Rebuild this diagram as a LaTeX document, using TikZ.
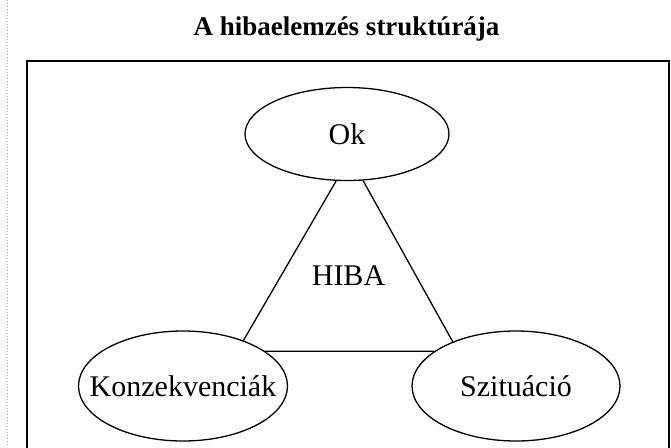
\documentclass[tikz,border=0pt]{standalone}
\usepackage{fontspec}
\setmainfont{Liberation Serif}
\usetikzlibrary{shapes.geometric}
\begin{document}
\begin{tikzpicture}[x=1pt,y=-1pt,
  oval/.style={draw, ellipse, line width=1.3pt, inner sep=0pt},
  lbl/.style={font=\fontsize{30}{30}\selectfont},
  conn/.style={line width=1.3pt}]
\useasboundingbox (0,0) rectangle (671,447);
\clip (0,0) rectangle (671,447);
\fill[white] (0,0) rectangle (671,447);
\coordinate (dtop) at (7,0);
\coordinate (dbot) at (7,447);
\draw[gray!60, line width=1pt, dotted] (dtop) -- (dbot);
\node[font=\bfseries\fontsize{27}{27}\selectfont, anchor=base] (title) at (346.5,35) {A hibaelemzés struktúrája};
\draw[line width=2pt] (27,61) rectangle (669,470);
\node[oval, minimum width=204pt, minimum height=93pt,
      label={[lbl]center:Ok}] (ok) at (347,134) {};
\node[oval, minimum width=209pt, minimum height=110pt,
      label={[lbl]center:Konzekvenciák}] (konz) at (183,386) {};
\node[oval, minimum width=208pt, minimum height=110pt,
      label={[lbl]center:Szituáció}] (szit) at (516,386) {};
\node[lbl, anchor=base] (hiba) at (348.5,285) {HIBA};
\draw[conn] (ok.257) -- (konz.37);
\draw[conn] (ok.289) -- (szit.145);
\draw[conn] (konz.23) -- (szit.157.6);
\end{tikzpicture}
\end{document}
